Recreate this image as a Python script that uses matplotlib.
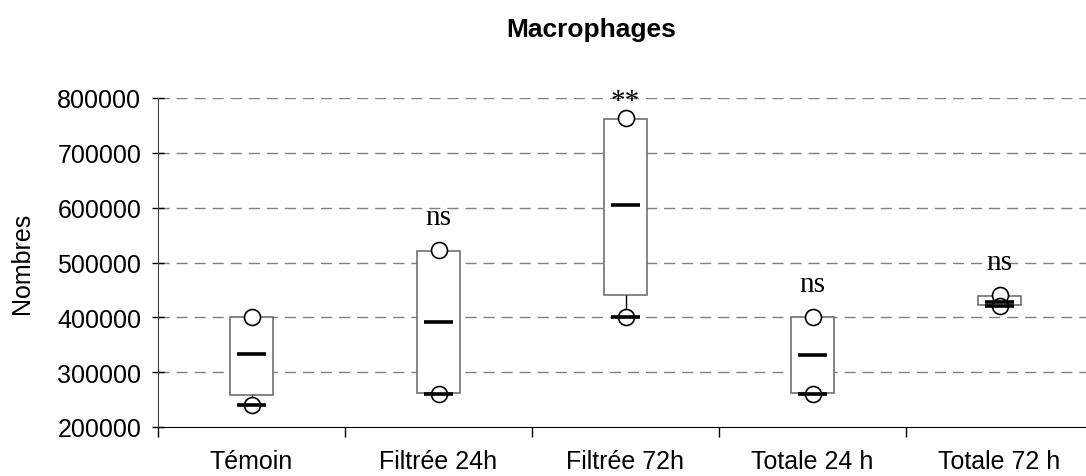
import numpy as np
import matplotlib
matplotlib.use("Agg")
import matplotlib.pyplot as plt

plt.rcParams['font.family'] = ['Liberation Sans', 'DejaVu Sans']

# values
categories = ["Témoin", "Filtrée 24h", "Filtrée 72h", "Totale 24 h", "Totale 72 h"]
box_low = [258000, 262000, 440000, 262000, 423000]
box_high = [400000, 521000, 762000, 400000, 438000]
medians = [333000, 391000, 605000, 331000, 428000]
minimums = [240000, 260000, 400000, 260000, 421000]
maximums = [400000, 522000, 763000, 400000, 441000]
sig_labels = ["", "ns", "**", "ns", "ns"]

x = np.arange(1, len(categories) + 1)

fig = plt.figure(figsize=(10.86, 4.77), dpi=100)
ax = fig.add_axes([158 / 1086, 1 - 428 / 477, (1086 - 158) / 1086, (428 - 99) / 477])

# dashed grid
for gy in range(300000, 800001, 100000):
    ax.axhline(gy, color="#808080", lw=1, dashes=(8, 5), zorder=0)

box_w = 0.235
ax.bar(x, np.array(box_high) - np.array(box_low), bottom=box_low, width=box_w,
       facecolor="white", edgecolor="#707070", lw=1.2, zorder=2)

# whiskers
ax.vlines(x, minimums, box_low, color="black", lw=1, zorder=2)
ax.vlines(x, box_high, maximums, color="black", lw=1, zorder=2)

# circles at max and min
ax.plot(x, maximums, "o", ms=11.5, mfc="white", mec="black", mew=1.2, zorder=3)
ax.plot(x, minimums, "o", ms=11.5, mfc="white", mec="black", mew=1.2, zorder=3)

# thick lines at median and min
half = 0.075
ax.hlines(medians, x - half, x + half, color="black", lw=2.6, zorder=4)
ax.hlines(minimums, x - half, x + half, color="black", lw=2.6, zorder=4)

offsets = {"ns": 48000, "**": 18000}
for xi, lab, mx in zip(x, sig_labels, maximums):
    if lab:
        ax.text(xi, mx + offsets[lab], lab, ha="center", va="baseline",
                family=["Liberation Serif", "DejaVu Serif"], fontsize=21,
                clip_on=False, zorder=5)

ax.set_xlim(0.5, 0.5 + len(categories) * 928 / 935)
ax.set_ylim(200000, 800000)
ax.set_yticks(range(200000, 800001, 100000))
ax.set_yticklabels([str(v) for v in range(200000, 800001, 100000)], fontsize=18)
ax.tick_params(axis="y", direction="inout", length=8, width=1, pad=8)

ax.set_xticks(x)
ax.set_xticklabels(categories, fontsize=18)
ax.set_xticks(np.arange(0.5, len(categories) + 0.5), minor=True)
ax.tick_params(axis="x", which="major", length=0, pad=16)
ax.tick_params(axis="x", which="minor", direction="out", length=7, width=1)

for s in ["top", "right"]:
    ax.spines[s].set_visible(False)
ax.spines["left"].set_color("#404040")
ax.spines["bottom"].set_color("black")

ax.set_ylabel("Nombres", fontsize=18)
ax.yaxis.set_label_coords(-124 / 928, 0.5)
fig.text(591 / 1086, 1 - 30 / 477, "Macrophages", ha="center", va="center",
         fontsize=19, fontweight="bold")

fig.savefig("out.png", dpi=100)
